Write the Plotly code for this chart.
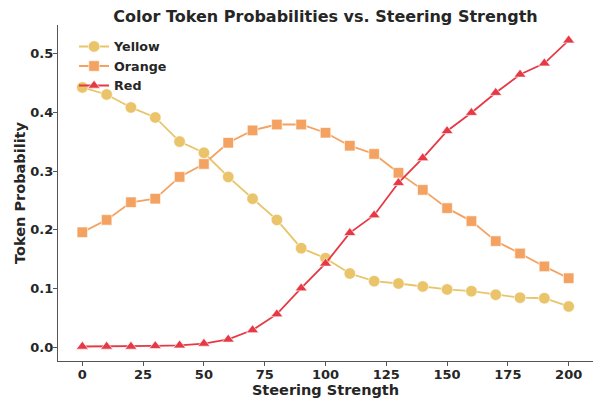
import plotly.graph_objects as go

steering = [0, 10, 20, 30, 40, 50, 60, 70, 80, 90, 100, 110, 120, 130, 140, 150, 160, 170, 180, 190, 200]
yellow = [0.442, 0.430, 0.408, 0.391, 0.350, 0.331, 0.290, 0.253, 0.217, 0.169, 0.152, 0.126, 0.113, 0.109, 0.104, 0.099, 0.096, 0.090, 0.085, 0.084, 0.070]
orange = [0.196, 0.217, 0.247, 0.253, 0.290, 0.312, 0.348, 0.369, 0.379, 0.379, 0.365, 0.343, 0.329, 0.297, 0.268, 0.237, 0.215, 0.181, 0.160, 0.138, 0.118]
red = [0.002, 0.002, 0.002, 0.003, 0.004, 0.007, 0.014, 0.030, 0.057, 0.101, 0.143, 0.195, 0.225, 0.280, 0.322, 0.368, 0.399, 0.433, 0.464, 0.483, 0.522]

series = [
    ("Yellow", yellow, "#E9C46A", "circle", 11.5),
    ("Orange", orange, "#F4A261", "square", 10.5),
    ("Red", red, "#E63946", "triangle-up", 10.5),
]

font_family = "DejaVu Sans"
fig = go.Figure()
for name, vals, color, sym, size in series:
    fig.add_trace(go.Scatter(
        x=steering, y=vals, name=name, mode="lines+markers",
        line=dict(color=color, width=1.8),
        marker=dict(symbol=sym, size=size, color=color, line=dict(color="white", width=0.6)),
    ))

axis_common = dict(
    showline=True, linecolor="#555555", linewidth=1.3,
    ticks="outside", ticklen=4, tickwidth=1.2, tickcolor="#555555",
    showgrid=False, zeroline=False, mirror=False, automargin=False,
    ticklabelstandoff=-3,
    tickfont=dict(family=font_family, size=13, color="#262626", weight="bold"),
)

fig.update_layout(
    width=597, height=401,
    margin=dict(l=58, r=4, t=25, b=40),
    paper_bgcolor="white", plot_bgcolor="white",
    title=dict(
        text="Color Token Probabilities vs. Steering Strength",
        font=dict(family=font_family, size=16, color="#262626", weight="bold"),
        x=0.5, xref="paper", xanchor="center", y=0.96, yref="container", yanchor="middle",
    ),
    xaxis=dict(
        range=[-10, 210], tickvals=[0, 25, 50, 75, 100, 125, 150, 175, 200],
        title=dict(text="Steering Strength", standoff=1,
                   font=dict(family=font_family, size=14.5, color="#262626", weight="bold")),
        **axis_common,
    ),
    yaxis=dict(
        range=[-0.0226, 0.548], tickvals=[0.0, 0.1, 0.2, 0.3, 0.4, 0.5], tickformat=".1f",
        title=dict(text="Token Probability", standoff=1,
                   font=dict(family=font_family, size=14.5, color="#262626", weight="bold")),
        **axis_common,
    ),
    legend=dict(
        x=0.03, y=0.98, xanchor="left", yanchor="top",
        bgcolor="rgba(255,255,255,0)", tracegroupgap=0, itemwidth=30,
        font=dict(family=font_family, size=12.7, color="#262626", weight="bold"),
    ),
    showlegend=True,
)

fig.write_html("out.html", config={"displayModeBar": False},
               post_script="document.body.style.margin='0px';")
